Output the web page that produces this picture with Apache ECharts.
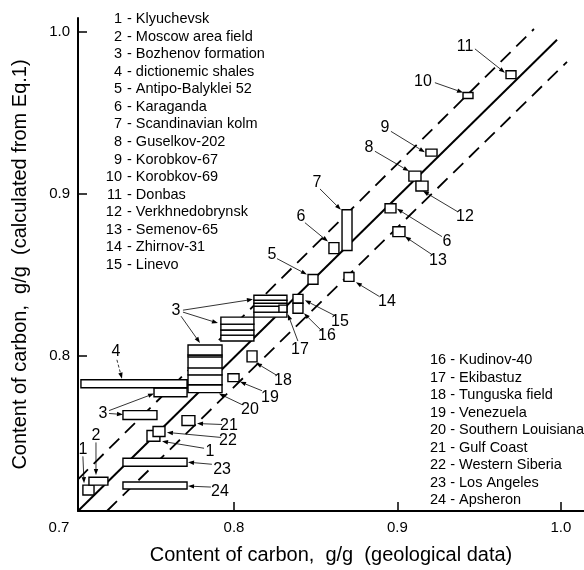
<!DOCTYPE html>
<html><head><meta charset="utf-8">
<script src="https://cdn.jsdelivr.net/npm/echarts@6/dist/echarts.min.js"></script>
<style>html,body{margin:0;padding:0;background:#fff}#c{width:584px;height:570px}</style>
</head><body><div id="c"></div>
<script>
// ---------- data ----------
const sampleNames = ['Klyuchevsk','Moscow area field','Bozhenov formation','dictionemic shales','Antipo-Balyklei 52','Karaganda','Scandinavian kolm','Guselkov-202','Korobkov-67','Korobkov-69','Donbas','Verkhnedobrynsk','Semenov-65','Zhirnov-31','Linevo','Kudinov-40','Ekibastuz','Tunguska field','Venezuela','Southern Louisiana','Gulf Coast','Western Siberia','Los Angeles','Apsheron'];

const xTicks = [0.8, 0.9, 1.0];
const yTicks = [0.8, 0.9, 1.0];
const xMin = 0.7046, xMax = 1.0141, yMin = 0.7039, yMax = 1.0088;

// single determinations / ranges: [xMin, xMax, yMin, yMax]
const boxLabels = ['1','2','1','22','21','23','24','3','4','19','18','17','15','16','5','6','7','14','6','13','8','12','9','10','11'];
const boxRanges = [
 [0.7076,0.7144,0.7138,0.7199],
 [0.7113,0.7229,0.7199,0.7248],
 [0.7468,0.7547,0.7470,0.7537],
 [0.7505,0.7578,0.7500,0.7562],
 [0.7682,0.7761,0.7568,0.7629],
 [0.7321,0.7713,0.7316,0.7365],
 [0.7321,0.7713,0.7175,0.7218],
 [0.7321,0.7529,0.7605,0.7660],
 [0.7064,0.7713,0.7801,0.7851],
 [0.7963,0.8031,0.7839,0.7888],
 [0.8080,0.8141,0.7961,0.8029],
 [0.8275,0.8324,0.8269,0.8312],
 [0.8361,0.8422,0.8324,0.8379],
 [0.8361,0.8422,0.8262,0.8324],
 [0.8453,0.8514,0.8441,0.8502],
 [0.8581,0.8642,0.8631,0.8699],
 [0.8661,0.8722,0.8650,0.8902],
 [0.8673,0.8734,0.8459,0.8514],
 [0.8924,0.8991,0.8883,0.8939],
 [0.8972,0.9046,0.8736,0.8797],
 [0.9070,0.9144,0.9079,0.9141],
 [0.9113,0.9187,0.9018,0.9079],
 [0.9174,0.9242,0.9234,0.9277],
 [0.9401,0.9462,0.9590,0.9627],
 [0.9664,0.9725,0.9713,0.9762]
];

// Bozhenov formation stacked blocks
const bozhenovX = [[0.7511,0.7713],[0.7719,0.7927],[0.7920,0.8122],[0.8122,0.8324]];
const bozhenovLevels = [
 [0.7746,0.7801,0.7851],
 [0.7771,0.7820,0.7881,0.7924,0.7992,0.8004,0.8066],
 [0.8090,0.8127,0.8158,0.8195,0.8238],
 [0.8238,0.8269,0.8305,0.8324,0.8342,0.8373]
];

// reference lines
const idealLine = [[0.7046,0.7039],[0.9976,0.9953]];
const upperBound = [[0.7046,0.7235],[0.9835,1.0020]];
const lowerBound = [[0.7223,0.7039],[1.0037,0.9817]];

// callout labels [text, x, y]
const calloutLabels = [
 ['1',0.7076,0.7420],['2',0.7156,0.7506],['1',0.7853,0.7408],['22',0.7963,0.7476],['21',0.7969,0.7568],
 ['23',0.7927,0.7298],['24',0.7914,0.7156],['3',0.7199,0.7642],['4',0.7278,0.8023],['3',0.7645,0.8281],
 ['20',0.8098,0.7666],['19',0.8220,0.7740],['18',0.8300,0.7845],['17',0.8404,0.8035],['16',0.8569,0.8121],
 ['15',0.8648,0.8213],['14',0.8936,0.8336],['5',0.8232,0.8625],['6',0.8410,0.8859],['7',0.8508,0.9068],
 ['6',0.9303,0.8705],['13',0.9248,0.8588],['12',0.9413,0.8859],['8',0.8826,0.9289],['9',0.8924,0.9412],
 ['10',0.9156,0.9694],['11',0.9413,0.9910]
];
// callout arrows [x1, y1, x2, y2, dashed]
const calloutArrows = [
 [0.7076,0.7377,0.7083,0.7211,0],[0.7156,0.7463,0.7156,0.7261,0],[0.7817,0.7427,0.7560,0.7470,0],
 [0.7920,0.7494,0.7590,0.7525,0],[0.7927,0.7574,0.7774,0.7580,0],[0.7865,0.7328,0.7719,0.7341,0],
 [0.7859,0.7187,0.7719,0.7193,0],[0.7236,0.7642,0.7321,0.7636,0],[0.7236,0.7660,0.7511,0.7765,0],
 [0.7284,0.7974,0.7315,0.7857,1],[0.7688,0.8281,0.8116,0.8348,0],[0.7688,0.8269,0.7902,0.8201,0],
 [0.7676,0.8244,0.7792,0.8078,0],[0.8049,0.7697,0.7908,0.7765,0],[0.8171,0.7783,0.8037,0.7838,0],
 [0.8257,0.7881,0.8135,0.7955,0],[0.8391,0.8090,0.8330,0.8256,0],[0.8538,0.8152,0.8428,0.8262,0],
 [0.8624,0.8244,0.8434,0.8342,0],[0.8887,0.8367,0.8746,0.8453,0],[0.8263,0.8600,0.8446,0.8502,0],
 [0.8434,0.8822,0.8575,0.8705,0],[0.8526,0.9031,0.8654,0.8902,0],[0.9272,0.8736,0.8997,0.8908,0],
 [0.9211,0.8625,0.9046,0.8736,0],[0.9370,0.8889,0.9156,0.9018,0],[0.8862,0.9264,0.9070,0.9141,0],
 [0.8960,0.9387,0.9168,0.9258,0],[0.9229,0.9688,0.9401,0.9627,0],[0.9474,0.9897,0.9657,0.9750,0]
];

// ---------- chart ----------
const FONT = '"Liberation Sans", Arial, Helvetica, sans-serif';
const chart = echarts.init(document.getElementById('c'), null, {renderer: 'canvas'});

const bozhenovRects = [];
bozhenovX.forEach((xr, i) => {
  const lv = bozhenovLevels[i];
  for (let k = 0; k < lv.length - 1; k++) bozhenovRects.push([xr[0], xr[1], lv[k], lv[k + 1]]);
});

function rectItem(params, api) {
  const p1 = api.coord([api.value(0), api.value(3)]);
  const p2 = api.coord([api.value(1), api.value(2)]);
  return {type: 'rect', shape: {x: p1[0], y: p1[1], width: p2[0] - p1[0], height: p2[1] - p1[1]},
    style: {fill: '#fff', stroke: '#000', lineWidth: 1.4}};
}

function arrowItem(params, api) {
  const a = api.coord([api.value(0), api.value(1)]);
  const b = api.coord([api.value(2), api.value(3)]);
  const dashed = api.value(4) === 1;
  const dx = b[0] - a[0], dy = b[1] - a[1];
  const len = Math.sqrt(dx * dx + dy * dy) || 1;
  const ux = dx / len, uy = dy / len;
  const hl = 6, hw = 2.2;
  const bx = b[0] - ux * hl, by = b[1] - uy * hl;
  return {type: 'group', children: [
    {type: 'line', shape: {x1: a[0], y1: a[1], x2: bx, y2: by},
      style: {stroke: '#000', lineWidth: 0.8, lineDash: dashed ? [3, 2] : null}},
    {type: 'polygon', shape: {points: [[b[0], b[1]], [bx - uy * hw, by + ux * hw], [bx + uy * hw, by - ux * hw]]},
      style: {fill: '#000'}}
  ]};
}

function labelItem(params, api) {
  const p = api.coord([api.value(0), api.value(1)]);
  return {type: 'text', x: p[0], y: p[1],
    style: {text: calloutLabels[params.dataIndex][0], fill: '#000', font: '16px ' + FONT,
      align: 'center', verticalAlign: 'middle', textAlign: 'center', textVerticalAlign: 'middle'}};
}

const legendGraphics = [];
for (let i = 0; i < 15; i++) {
  const y = 19 + i * 17.57;
  legendGraphics.push({type: 'text', x: 122, y: y, style: {text: String(i + 1), font: '14.5px ' + FONT, fill: '#000',
    align: 'right', verticalAlign: 'middle', textAlign: 'right', textVerticalAlign: 'middle'}});
  legendGraphics.push({type: 'text', x: 127, y: y, style: {text: '- ' + sampleNames[i], font: '14.5px ' + FONT, fill: '#000',
    align: 'left', verticalAlign: 'middle', textAlign: 'left', textVerticalAlign: 'middle'}});
}
for (let i = 15; i < 24; i++) {
  const y = 360 + (i - 15) * 17.5;
  legendGraphics.push({type: 'text', x: 430, y: y, style: {text: (i + 1) + ' - ' + sampleNames[i], font: '14.5px ' + FONT, fill: '#000',
    align: 'left', verticalAlign: 'middle', textAlign: 'left', textVerticalAlign: 'middle'}});
}

const axisCommon = {
  type: 'value',
  axisLine: {show: true, onZero: false, lineStyle: {color: '#000', width: 2}},
  axisTick: {show: true, inside: true, length: 9, lineStyle: {color: '#000', width: 1.5}},
  splitLine: {show: false},
  nameLocation: 'middle',
  nameTextStyle: {color: '#000', fontSize: 20, fontFamily: FONT}
};

chart.setOption({
  backgroundColor: '#fff',
  animation: false,
  grid: {left: 78, right: 0, top: 18, bottom: 56, containLabel: false},
  xAxis: Object.assign({}, axisCommon, {
    min: xMin, max: xMax,
    name: 'Content of carbon,  g/g  (geological data)', nameGap: 34,
    axisTick: Object.assign({}, axisCommon.axisTick, {customValues: xTicks}),
    axisLabel: {show: true, customValues: [xMin].concat(xTicks), margin: 9, color: '#000', fontSize: 15, fontFamily: FONT,
      formatter: v => Math.abs(v - xMin) < 1e-6 ? '{s|0.7}' : v.toFixed(1),
      rich: {s: {fontSize: 15, fontFamily: FONT, color: '#000', padding: [0, 38, 0, 0]}}}
  }),
  yAxis: Object.assign({}, axisCommon, {
    min: yMin, max: yMax,
    name: 'Content of carbon,  g/g  (calculated from Eq.1)', nameGap: 48,
    axisTick: Object.assign({}, axisCommon.axisTick, {customValues: yTicks}),
    axisLabel: {show: true, customValues: yTicks, margin: 8, color: '#000', fontSize: 15, fontFamily: FONT,
      formatter: v => v.toFixed(1)}
  }),
  graphic: legendGraphics,
  series: [
    {type: 'line', data: idealLine, symbol: 'none', z: 1, lineStyle: {color: '#000', width: 2}},
    {type: 'line', data: upperBound, symbol: 'none', z: 1, lineStyle: {color: '#000', width: 1.8, type: [14, 8]}},
    {type: 'line', data: lowerBound, symbol: 'none', z: 1, lineStyle: {color: '#000', width: 1.8, type: [14, 8]}},
    {type: 'custom', renderItem: rectItem, data: bozhenovRects, z: 3, clip: false},
    {type: 'custom', renderItem: rectItem, data: boxRanges, z: 4, clip: false},
    {type: 'custom', renderItem: arrowItem, data: calloutArrows, z: 5, clip: false},
    {type: 'custom', renderItem: labelItem, data: calloutLabels.map(l => [l[1], l[2]]), z: 5, clip: false}
  ]
});
</script>
</body></html>
